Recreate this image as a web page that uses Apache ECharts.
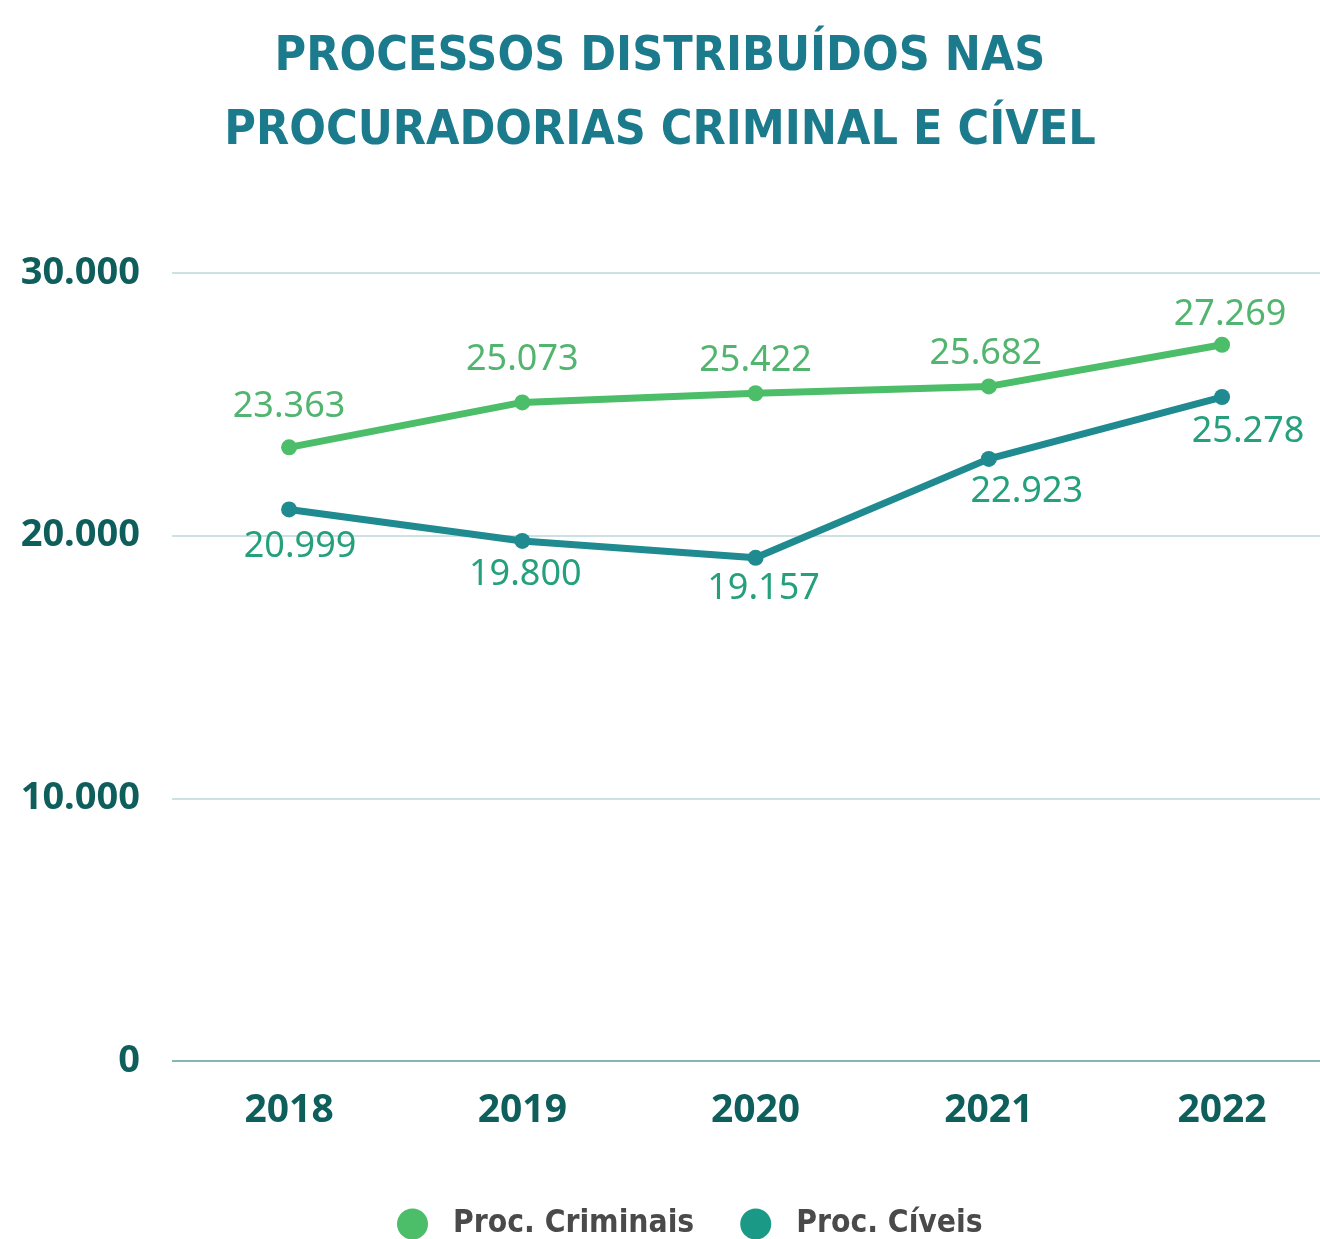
<!DOCTYPE html>
<html>
<head>
<meta charset="utf-8">
<script src="https://cdn.jsdelivr.net/npm/echarts@6/dist/echarts.min.js"></script>
<style>
  html, body { margin: 0; padding: 0; background: #ffffff; }
  #chart { width: 1320px; height: 1239px; }
</style>
</head>
<body>
<div id="chart"></div>
<script>
// Anos e totais de processos distribuídos
const years = [2018, 2019, 2020, 2021, 2022];
const criminais = [23363, 25073, 25422, 25682, 27269];
const civeis = [20999, 19800, 19157, 22923, 25278];
const yTicks = [0, 10000, 20000, 30000];

const fmt = v => v === 0 ? '0' : v.toLocaleString('de-DE');

const condensed = '"Liberation Sans Narrow", "DejaVu Sans Condensed", "Noto Sans", sans-serif';
const numFont = '"Noto Sans", "Open Sans", sans-serif';

// deslocamentos finos das etiquetas de cada série
const criminaisOffsets = [[0, -5], [0, -7], [0, 4], [-3, 3], [8, 6]];
const civeisOffsets = [[11, 0], [3, -3], [8, -6], [38, -4], [26, -2]];

// o eixo dos anos tem meio intervalo à esquerda e a área continua até à borda direita
const xMin = 2017.498;
const xMax = 2022.42;

const chart = echarts.init(document.getElementById('chart'), null, { renderer: 'canvas' });
chart.setOption({
  backgroundColor: '#ffffff',
  animation: false,
  title: {
    text: 'PROCESSOS DISTRIBUÍDOS NAS\nPROCURADORIAS CRIMINAL E CÍVEL',
    left: 'center',
    top: 16,
    textStyle: {
      fontFamily: condensed,
      fontWeight: 'bold',
      fontSize: 48,
      lineHeight: 74,
      color: '#1b7b8c'
    }
  },
  legend: {
    top: 1203,
    left: 392,
    itemGap: 46,
    itemWidth: 31,
    itemHeight: 31,
    icon: 'circle',
    textStyle: {
      fontFamily: condensed,
      fontWeight: 'bold',
      fontSize: 31.5,
      color: '#4a4a4a',
      padding: [0, 0, 0, 20]
    },
    data: [
      { name: 'Proc. Criminais', itemStyle: { color: '#4cbd68' } },
      { name: 'Proc. Cíveis', itemStyle: { color: '#1a9a86' } }
    ]
  },
  grid: { left: 172, right: 0, top: 273, bottom: 178, containLabel: false },
  xAxis: {
    type: 'value',
    min: xMin,
    max: xMax,
    axisLine: { show: false },
    axisTick: { show: false },
    splitLine: { show: false },
    axisLabel: {
      customValues: years,
      formatter: v => String(v),
      margin: 30,
      fontFamily: numFont,
      fontWeight: 'bold',
      fontSize: 39,
      color: '#0e5e5c'
    }
  },
  yAxis: {
    type: 'value',
    min: yTicks[0],
    max: yTicks[yTicks.length - 1],
    interval: 10000,
    axisLine: { show: false },
    axisTick: { show: false },
    axisLabel: {
      margin: 32,
      formatter: fmt,
      fontFamily: numFont,
      fontWeight: 'bold',
      fontSize: 38,
      color: '#0e5e5c'
    },
    splitLine: {
      lineStyle: {
        color: ['#5e9c9f', '#bcd6d9', '#bcd6d9', '#bcd6d9'],
        width: 1.5
      }
    }
  },
  series: [
    {
      name: 'Proc. Criminais',
      type: 'line',
      data: criminais.map((v, i) => ({
        value: [years[i], v],
        label: { offset: criminaisOffsets[i] }
      })),
      symbol: 'circle',
      symbolSize: 16,
      lineStyle: { width: 7, color: '#4cbd68' },
      itemStyle: { color: '#4cbd68' },
      label: {
        show: true,
        position: 'top',
        distance: 10,
        formatter: p => fmt(p.value[1]),
        fontFamily: numFont,
        fontSize: 36,
        color: '#52b56f'
      },
      z: 3
    },
    {
      name: 'Proc. Cíveis',
      type: 'line',
      data: civeis.map((v, i) => ({
        value: [years[i], v],
        label: { offset: civeisOffsets[i] }
      })),
      symbol: 'circle',
      symbolSize: 16,
      lineStyle: { width: 7, color: '#1f8a90' },
      itemStyle: { color: '#1f8a90' },
      label: {
        show: true,
        position: 'bottom',
        distance: 11,
        formatter: p => fmt(p.value[1]),
        fontFamily: numFont,
        fontSize: 36,
        color: '#25a07c'
      },
      z: 3
    }
  ]
});
</script>
</body>
</html>
